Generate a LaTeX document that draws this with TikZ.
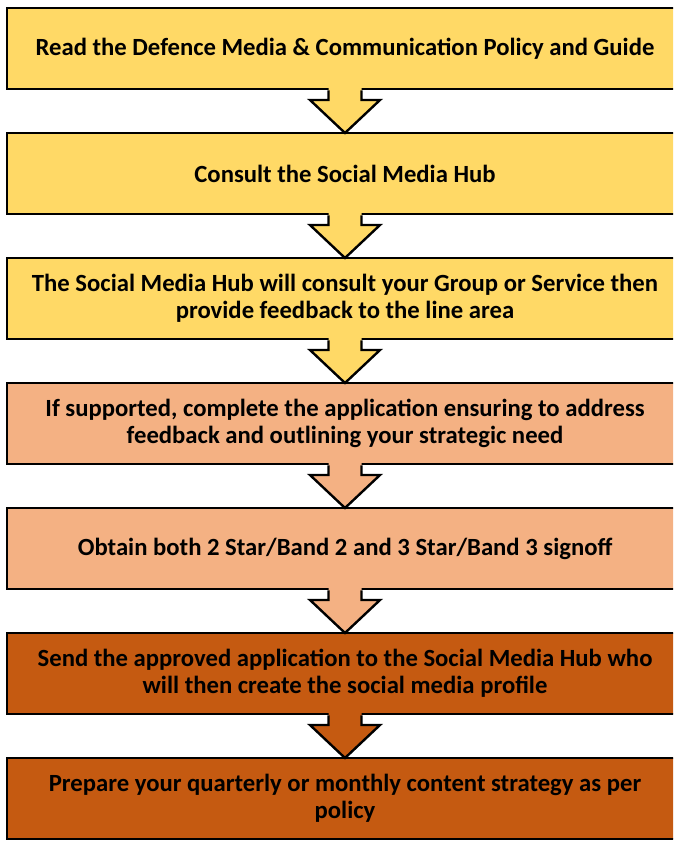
\documentclass[tikz,border=0pt]{standalone}
\usepackage{fontspec}
\setmainfont{Carlito}
\definecolor{yel}{HTML}{FFD966}
\definecolor{lor}{HTML}{F4B183}
\definecolor{dor}{HTML}{C55A11}
\begin{document}
\begin{tikzpicture}[x=1pt,y=-1pt,
  stepbox/.style={draw=black, line width=2.6pt, minimum width=676pt, minimum height=81pt,
    inner sep=0pt, outer sep=0pt, align=center, anchor=north,
    font=\bfseries\fontsize{24.7}{27}\selectfont},
  arrowline/.style={draw=black, line width=2.4pt, line join=miter}]
\useasboundingbox (0,0) rectangle (673,841);
\clip (0,0) rectangle (673,841);
\newcommand\flowarrow[3]{%
  \fill[#3] ([shift={(-16.5,-3)}]#1.south) -- ([shift={(-16.5,11)}]#1.south) -- ([shift={(-35,11)}]#1.south) -- (#2.north) -- ([shift={(35,11)}]#1.south) -- ([shift={(16.5,11)}]#1.south) -- ([shift={(16.5,-3)}]#1.south) -- cycle;
  \draw[arrowline] ([shift={(-16.5,1.3)}]#1.south) -- ([shift={(-16.5,11)}]#1.south) -- ([shift={(-35,11)}]#1.south) -- (#2.north) -- ([shift={(35,11)}]#1.south) -- ([shift={(16.5,11)}]#1.south) -- ([shift={(16.5,1.3)}]#1.south);}
\node[stepbox, fill=yel] (b1) at (345,8) {Read the Defence Media \& Communication Policy and Guide};
\node[stepbox, fill=yel] (b2) at (345,133) {Consult the Social Media Hub};
\node[stepbox, fill=yel] (b3) at (345,258) {The Social Media Hub will consult your Group or Service then\\provide feedback to the line area};
\node[stepbox, fill=lor] (b4) at (345,383) {If supported, complete the application ensuring to address\\feedback and outlining your strategic need};
\node[stepbox, fill=lor] (b5) at (345,508) {Obtain both 2 Star/Band 2 and 3 Star/Band 3 signoff};
\node[stepbox, fill=dor] (b6) at (345,633) {Send the approved application to the Social Media Hub who\\will then create the social media profile};
\node[stepbox, fill=dor] (b7) at (345,758) {Prepare your quarterly or monthly content strategy as per\\policy};
\flowarrow{b1}{b2}{yel}
\flowarrow{b2}{b3}{yel}
\flowarrow{b3}{b4}{yel}
\flowarrow{b4}{b5}{lor}
\flowarrow{b5}{b6}{lor}
\flowarrow{b6}{b7}{dor}
\end{tikzpicture}
\end{document}
